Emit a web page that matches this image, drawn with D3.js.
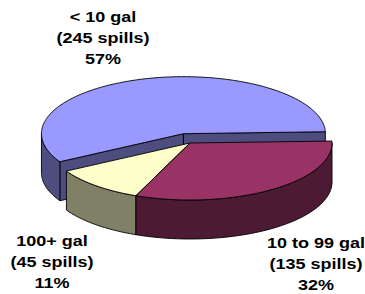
<!DOCTYPE html>
<html>
<head>
<meta charset="utf-8">
<style>
  html, body { margin: 0; padding: 0; background: #fff; }
  svg { display: block; }
  .label { font-family: "Liberation Sans", Arial, sans-serif; font-weight: bold; font-size: 15px; fill: #000; }
</style>
</head>
<body>
<svg id="chart" width="365" height="294"></svg>
<script src="https://cdnjs.cloudflare.com/ajax/libs/d3/7.8.5/d3.min.js"></script>
<script>
    const categories = ["< 10 gal", "10 to 99 gal", "100+ gal"];
    const spills = [245, 135, 45];
    const percents = ["57%", "32%", "11%"];
    const explode = [0.17, 0, 0];
    const topColors = ["#9999ff", "#993366", "#ffffcc"];
    const sideColors = ["#4d4d80", "#4d1a33", "#808066"];

    // ellipse of the pie top, thickness of the disc
    const cx = 190, cy = 143, rx = 142, ry = 57, depth = 39;
    const startDeg = 240.5;
    const labelPos = [[103, 22], [316, 248], [52, 246]];
    const lineGap = 21;

    const rad = d => d * Math.PI / 180;
    const svg = d3.select("#chart");

    const pie = d3.pie().sort(null)
        .startAngle(rad(startDeg))
        .endAngle(rad(startDeg + 360));

    const slices = pie(spills).map((a, i) => {
        const mid = (a.startAngle + a.endAngle) / 2;
        return {
            ...a, i, mid,
            dx: explode[i] * rx * Math.sin(mid),
            dy: -explode[i] * ry * Math.cos(mid)
        };
    });

    const pt = (s, a, z) => [cx + s.dx + rx * Math.sin(a), cy + s.dy - ry * Math.cos(a) + z];
    const sample = (a0, a1) => {
        const n = Math.max(2, Math.ceil(Math.abs(a1 - a0) / rad(1)));
        return d3.range(n + 1).map(k => a0 + (a1 - a0) * k / n);
    };

    function topPath(s) {
        const p = d3.path();
        p.moveTo(cx + s.dx, cy + s.dy);
        sample(s.startAngle, s.endAngle).forEach(a => p.lineTo(...pt(s, a, 0)));
        p.closePath();
        return p.toString();
    }

    function wallPath(s, b0, b1) {
        const p = d3.path();
        const as = sample(b0, b1);
        p.moveTo(...pt(s, as[0], 0));
        as.forEach(a => p.lineTo(...pt(s, a, 0)));
        as.slice().reverse().forEach(a => p.lineTo(...pt(s, a, depth)));
        p.closePath();
        return p.toString();
    }

    function facePath(s, a) {
        const p = d3.path();
        p.moveTo(cx + s.dx, cy + s.dy);
        p.lineTo(...pt(s, a, 0));
        p.lineTo(...pt(s, a, depth));
        p.lineTo(cx + s.dx, cy + s.dy + depth);
        p.closePath();
        return p.toString();
    }

    // parts of the rim that face the viewer: angles 90..270 deg (+k*360)
    function frontRanges(a0, a1) {
        const out = [];
        for (let k = -1; k <= 2; k++) {
            const lo = Math.max(a0, rad(90 + 360 * k)), hi = Math.min(a1, rad(270 + 360 * k));
            if (hi > lo) out.push([lo, hi]);
        }
        return out;
    }

    const order = slices.slice().sort((a, b) => -Math.cos(a.mid) - -Math.cos(b.mid));

    const g = svg.append("g")
        .attr("stroke", "#000")
        .attr("stroke-width", 0.9)
        .attr("stroke-linejoin", "round");

    order.forEach(s => {
        const sg = g.append("g");
        if (Math.sin(s.startAngle) < 0) {
            sg.append("path").attr("d", facePath(s, s.startAngle)).attr("fill", sideColors[s.i]);
        }
        if (Math.sin(s.endAngle) > 0) {
            sg.append("path").attr("d", facePath(s, s.endAngle)).attr("fill", sideColors[s.i]);
        }
        frontRanges(s.startAngle, s.endAngle).forEach(([b0, b1]) => {
            sg.append("path").attr("d", wallPath(s, b0, b1)).attr("fill", sideColors[s.i]);
        });
        sg.append("path").attr("d", topPath(s)).attr("fill", topColors[s.i]);
    });

    const labels = svg.append("g").attr("class", "label");
    slices.forEach(s => {
        const lines = [categories[s.i], `(${spills[s.i]} spills)`, percents[s.i]];
        lines.forEach((t, j) => {
            labels.append("text")
                .attr("text-anchor", "middle")
                .attr("transform", `translate(${labelPos[s.i][0]},${labelPos[s.i][1] + j * lineGap}) scale(1.2,1)`)
                .text(t);
        });
    });
</script>
</body>
</html>
